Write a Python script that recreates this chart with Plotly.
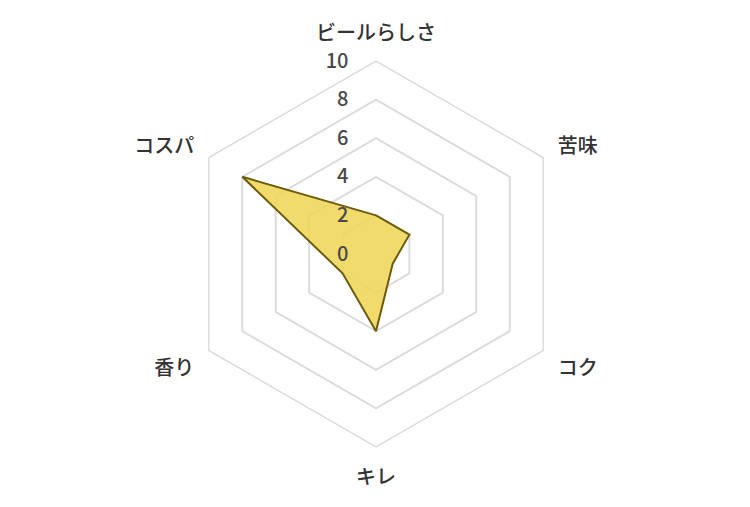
import plotly.graph_objects as go

categories = ["ビールらしさ", "苦味", "コク", "キレ", "香り", "コスパ"]
values = [2, 2, 1, 4, 2, 8]
tick_vals = [0, 2, 4, 6, 8, 10]
tick_text = ["0", "2", "4", "6", "8", "10"]

fig = go.Figure()
fig.add_trace(go.Scatterpolar(
    r=values + values[:1],
    theta=categories + categories[:1],
    mode="lines",
    fill="toself",
    fillcolor="rgba(238,214,88,0.88)",
    line=dict(color="#6e5c0c", width=2),
    hoverinfo="skip",
    showlegend=False,
))

fig.update_layout(
    width=750, height=507,
    margin=dict(l=73, r=87, t=53, b=68),
    paper_bgcolor="white",
    font=dict(family="Noto Sans CJK JP", color="#444"),
    polar=dict(
        bgcolor="white",
        gridshape="linear",
        domain=dict(x=[0, 1], y=[0, 1]),
        radialaxis=dict(
            range=[0, 10],
            tickvals=tick_vals,
            ticktext=tick_text,
            angle=90,
            tickangle=90,
            side="counterclockwise",
            showline=False,
            gridcolor="#dcdcdc",
            gridwidth=1.5,
            ticks="outside",
            ticklen=20,
            tickcolor="rgba(0,0,0,0)",
            tickfont=dict(size=20, color="#4a4a4a", weight=500),
            layer="above traces",
        ),
        angularaxis=dict(
            direction="clockwise",
            rotation=90,
            showgrid=False,
            showline=True,
            linecolor="#dcdcdc",
            linewidth=1.5,
            ticks="outside",
            ticklen=12,
            tickcolor="rgba(0,0,0,0)",
            tickfont=dict(size=20, color="#333", weight=500),
            layer="above traces",
        ),
    ),
)

fig.write_html("out.html")
